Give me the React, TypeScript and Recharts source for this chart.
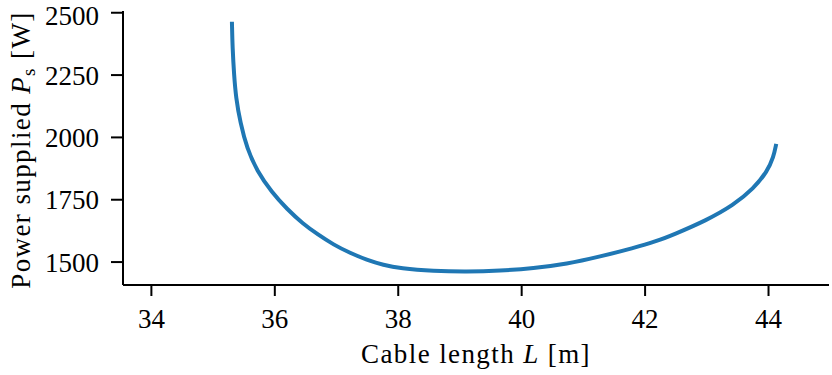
import React from "react";
import { LineChart, Line, XAxis, YAxis } from "recharts";

const cableLength: number[] = [
  35.305, 35.315, 35.34, 35.37, 35.44, 35.55, 35.71, 35.95, 36.2, 36.45, 36.7,
  36.95, 37.22, 37.49, 37.76, 38.03, 38.57, 39.11, 39.65, 40.19, 40.73, 41.27,
  41.81, 42.19, 42.46, 43.0, 43.43, 43.76, 43.98, 44.08, 44.125,
];
const powerSupplied: number[] = [
  2464, 2357, 2250, 2160, 2060, 1955, 1866, 1780, 1712, 1655, 1610, 1570, 1536,
  1509, 1488, 1475, 1464, 1461, 1465, 1475, 1492, 1522, 1556, 1584, 1610, 1668,
  1728, 1795, 1864, 1920, 1974,
];
const xTicks: number[] = [34, 36, 38, 40, 42, 44];
const yTicks: number[] = [1500, 1750, 2000, 2250, 2500];
const xDomain: [number, number] = [33.54, 44.98];
const yDomain: [number, number] = [1408, 2507];

const data = cableLength.map((L, i) => ({ L, P: powerSupplied[i] }));

const FONT = "'Liberation Serif', 'Times New Roman', serif";
const tickStyle = { fontFamily: FONT, fontSize: 27, fill: "#000" };

const XLabel = (props: any) => {
  const vb = props.viewBox || {};
  const cx = vb.x + vb.width / 2;
  const y = vb.y + 78;
  return (
    <text x={cx} y={y} textAnchor="middle" fontFamily={FONT} fontSize={27} fill="#000" letterSpacing={1.4}>
      Cable length <tspan fontStyle="italic">L</tspan> [m]
    </text>
  );
};

const YLabel = (props: any) => {
  const vb = props.viewBox || {};
  const cx = vb.x + 30;
  const cy = vb.y + vb.height / 2 + 2;
  return (
    <text
      x={cx}
      y={cy}
      transform={`rotate(-90, ${cx}, ${cy})`}
      textAnchor="middle"
      fontFamily={FONT}
      fontSize={27}
      fill="#000"
      letterSpacing={1.4}
    >
      Power supplied <tspan fontStyle="italic">P</tspan>
      <tspan dy={5} fontSize={19}>s</tspan>
      <tspan dy={-5}> [W]</tspan>
    </text>
  );
};

export default function App() {
  return (
    <div style={{ position: "absolute", left: 0, top: 0, background: "#fff" }}>
      <LineChart
        width={832}
        height={375}
        data={data}
        margin={{ top: 11, right: 3, bottom: 0, left: 0 }}
      >
        <XAxis
          dataKey="L"
          type="number"
          domain={xDomain}
          ticks={xTicks}
          allowDataOverflow
          height={90}
          tickSize={11}
          tickMargin={13}
          tick={tickStyle}
          axisLine={{ stroke: "#000", strokeWidth: 2 }}
          tickLine={{ stroke: "#000", strokeWidth: 2 }}
          label={{ content: XLabel }}
        />
        <XAxis
          xAxisId="top"
          orientation="top"
          dataKey="L"
          type="number"
          domain={xDomain}
          allowDataOverflow
          height={0}
          tick={false}
          tickLine={false}
          axisLine={{ stroke: "#000", strokeWidth: 2 }}
        />
        <YAxis
          type="number"
          domain={yDomain}
          ticks={yTicks}
          allowDataOverflow
          width={123}
          tickSize={12}
          tickMargin={12}
          tick={tickStyle}
          axisLine={{ stroke: "#000", strokeWidth: 2 }}
          tickLine={{ stroke: "#000", strokeWidth: 2 }}
          label={{ content: YLabel }}
        />
        <YAxis
          yAxisId="right"
          orientation="right"
          type="number"
          domain={yDomain}
          allowDataOverflow
          width={0}
          tick={false}
          tickLine={false}
          axisLine={{ stroke: "#000", strokeWidth: 2 }}
        />
        <Line
          dataKey="P"
          type="basis"
          stroke="#1f77b4"
          strokeWidth={4}
          dot={false}
          isAnimationActive={false}
        />
      </LineChart>
    </div>
  );
}
